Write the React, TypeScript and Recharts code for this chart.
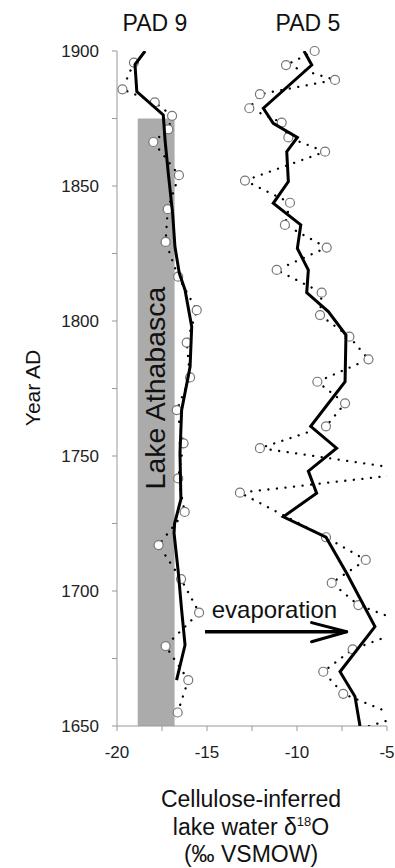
import { ScatterChart, Scatter, XAxis, YAxis, ReferenceArea, ReferenceLine } from 'recharts';

// PAD 9 measured values (year AD, lake water d18O)
const pad9Years = [1895.7, 1885.8, 1881, 1876, 1871, 1866.3, 1854, 1841.4, 1829.3, 1816.4, 1804, 1792, 1779.1, 1767, 1754.7, 1741.7, 1729.3, 1717, 1704.4, 1692, 1679.6, 1667, 1655];
const pad9Values = [-19.06, -19.7, -17.9, -16.94, -17.15, -17.98, -16.56, -17.18, -17.3, -16.6, -15.57, -16.13, -15.94, -16.68, -16.3, -16.6, -16.24, -17.69, -16.44, -15.44, -17.3, -16.04, -16.63];

// PAD 9 smoothed curve
const pad9SmoothYears = [1900, 1895, 1885, 1876.3, 1867, 1854.7, 1839.9, 1827.5, 1817.7, 1811.5, 1797.9, 1783, 1767, 1751, 1734, 1725, 1721.4, 1706.6, 1693, 1680, 1667];
const pad9SmoothValues = [-18.44, -19.0, -18.9, -17.43, -17.33, -17.15, -16.91, -16.78, -16.54, -16.22, -15.85, -15.94, -16.41, -16.5, -16.45, -16.8, -16.83, -16.59, -16.41, -16.22, -16.69];

// PAD 5 measured values (some run off the plot and are clipped)
const pad5Years = [1900, 1894.8, 1889.3, 1884, 1878.8, 1873.5, 1868, 1862.7, 1852, 1843.8, 1835.6, 1827.2, 1818.9, 1810.5, 1802.2, 1794.2, 1785.8, 1777.5, 1769.5, 1761, 1752.9, 1744.1, 1736.4, 1719.9, 1711.5, 1703, 1694.8, 1686.9, 1678.4, 1670.1, 1661.9, 1653.4, 1645];
const pad5Values = [-9.02, -10.61, -7.89, -12.06, -12.65, -10.85, -10.48, -8.44, -12.89, -10.39, -10.67, -8.35, -11.13, -8.63, -8.72, -7.09, -6.03, -8.87, -7.33, -8.39, -12.06, -3.0, -13.17, -8.39, -6.18, -8.07, -6.59, -3.45, -6.91, -8.54, -7.43, -4.3, -8.4];

// PAD 5 smoothed curve
const pad5SmoothYears = [1900, 1894.8, 1878.8, 1873.2, 1868, 1862.7, 1851.6, 1843.6, 1835.6, 1826.9, 1818.9, 1810.5, 1803.5, 1794.8, 1777.5, 1761, 1752.9, 1744.4, 1736.2, 1727.5, 1719.9, 1706.6, 1686.8, 1670.1, 1660.9, 1650];
const pad5SmoothValues = [-9.61, -9.18, -11.87, -11.32, -9.98, -10.57, -10.48, -11.32, -9.79, -9.98, -9.37, -9.46, -8.26, -7.28, -7.33, -9.24, -7.8, -9.37, -8.91, -10.76, -8.39, -7.24, -5.67, -7.61, -6.78, -6.5];

const xDomain = [-20, -5];
const yDomain = [1650, 1900];
const xTicks = [-20, -17.5, -15, -12.5, -10, -7.5, -5];
const yTicks = [1650, 1675, 1700, 1725, 1750, 1775, 1800, 1825, 1850, 1875, 1900];

const toPoints = (years: number[], values: number[]) => years.map((year, i) => ({ year, v: values[i] }));
const inRange = (p: { year: number; v: number }) =>
  p.v >= xDomain[0] && p.v <= xDomain[1] && p.year >= yDomain[0] && p.year <= yDomain[1];

const pad9 = toPoints(pad9Years, pad9Values);
const pad9Smooth = toPoints(pad9SmoothYears, pad9SmoothValues);
const pad5 = toPoints(pad5Years, pad5Values);
const pad5Smooth = toPoints(pad5SmoothYears, pad5SmoothValues);

const font = '"Liberation Sans", Arial, sans-serif';

const OpenCircle = (props: any) => (
  <circle cx={props.cx} cy={props.cy} r={4.5} fill="#fff" stroke="#777" strokeWidth={1.2} />
);
const NoDot = () => <g />;

const dotted = { stroke: '#000', strokeWidth: 2.3, strokeDasharray: '0.1 8.5', strokeLinecap: 'round' as const };
const solid = { stroke: '#000', strokeWidth: 3, strokeLinejoin: 'miter' as const };

export default function App() {
  return (
    <div style={{ position: 'absolute', left: 0, top: 0, width: 395, height: 868, background: '#fff' }}>
      <ScatterChart width={395} height={868} margin={{ top: 51, right: 8, bottom: 0, left: 0 }}>
        <XAxis
          type="number"
          dataKey="v"
          domain={xDomain}
          ticks={xTicks}
          interval={0}
          allowDataOverflow
          height={142}
          stroke="#999"
          tickSize={5}
          tickMargin={15}
          tick={{ fill: '#222', fontSize: 17, fontFamily: font }}
          tickFormatter={(t: number) => (t % 5 === 0 ? String(t) : '')}
        />
        <YAxis
          type="number"
          dataKey="year"
          domain={yDomain}
          ticks={yTicks}
          interval={0}
          allowDataOverflow
          width={117}
          stroke="#999"
          tickSize={5}
          tickMargin={13}
          tick={{ fill: '#222', fontSize: 17, fontFamily: font }}
          tickFormatter={(t: number) => (t % 50 === 0 ? String(t) : '')}
        />
        {/* unclipped twin axes so the open circles are not cut at the plot edge */}
        <XAxis xAxisId="c" type="number" dataKey="v" domain={xDomain} hide />
        <YAxis yAxisId="c" type="number" dataKey="year" domain={yDomain} hide />
        <ReferenceArea x1={-18.85} x2={-16.8} y1={1650} y2={1875} fill="#ababab" fillOpacity={1} stroke="none" />
        <Scatter data={pad9} fill="#000" line={dotted} shape={NoDot} isAnimationActive={false} />
        <Scatter data={pad5} fill="#000" line={dotted} shape={NoDot} isAnimationActive={false} />
        <Scatter data={pad9.filter(inRange)} xAxisId="c" yAxisId="c" shape={OpenCircle} isAnimationActive={false} />
        <Scatter data={pad5.filter(inRange)} xAxisId="c" yAxisId="c" shape={OpenCircle} isAnimationActive={false} />
        <Scatter data={pad9Smooth} fill="#000" line={solid} shape={NoDot} isAnimationActive={false} />
        <Scatter data={pad5Smooth} fill="#000" line={solid} shape={NoDot} isAnimationActive={false} />
        <ReferenceLine segment={[{ x: -15.11, y: 1684.9 }, { x: -7.3, y: 1684.9 }]} stroke="#000" strokeWidth={3.5} ifOverflow="visible" />
        <ReferenceLine segment={[{ x: -9.19, y: 1688.3 }, { x: -7.24, y: 1684.9 }]} stroke="#000" strokeWidth={3} strokeLinecap="round" ifOverflow="visible" />
        <ReferenceLine segment={[{ x: -9.19, y: 1681.2 }, { x: -7.24, y: 1684.9 }]} stroke="#000" strokeWidth={3} strokeLinecap="round" ifOverflow="visible" />
      </ScatterChart>
      <svg width={395} height={868} style={{ position: 'absolute', left: 0, top: 0, pointerEvents: 'none' }} fontFamily={font} fill="#111">
        <text x={155} y={31} fontSize={23} textAnchor="middle">PAD 9</text>
        <text x={308} y={31} fontSize={23} textAnchor="middle">PAD 5</text>
        <text transform="translate(40,388) rotate(-90)" fontSize={21} textAnchor="middle">Year AD</text>
        <text transform="translate(165,388) rotate(-90)" fontSize={28.5} textAnchor="middle">Lake Athabasca</text>
        <text x={211.7} y={618} fontSize={24}>evaporation</text>
        <text x={251} y={807} fontSize={23} textAnchor="middle">Cellulose-inferred</text>
        <text x={251} y={835} fontSize={23} textAnchor="middle">
          lake water δ<tspan fontSize={13} dy={-9}>18</tspan><tspan dy={9}>O</tspan>
        </text>
        <text x={251} y={862} fontSize={23} textAnchor="middle">(‰ VSMOW)</text>
      </svg>
    </div>
  );
}
